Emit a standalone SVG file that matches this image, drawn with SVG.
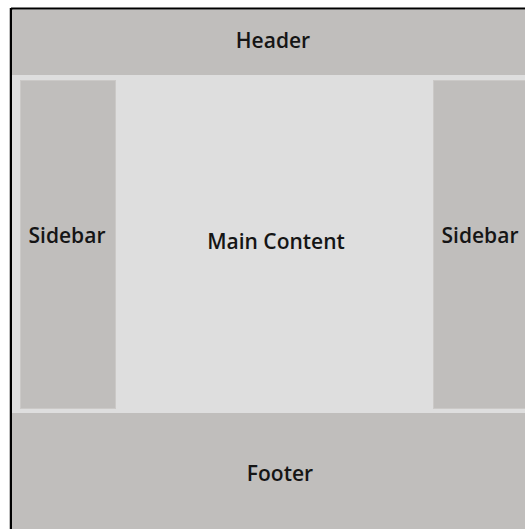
<svg xmlns="http://www.w3.org/2000/svg" width="525" height="529" viewBox="0 0 525 529">
  <style>
    .band { fill: #c0bebc; }
    .main { fill: #dedede; }
    .side { fill: #c0bebc; stroke: #cbc9c7; stroke-width: 1; }
    .label { font-family: "Open Sans", "Noto Sans", "DejaVu Sans", sans-serif; font-weight: 600; font-size: 21px; fill: #151515; text-anchor: middle; }
  </style>
  <rect x="0" y="0" width="525" height="529" fill="#ffffff"/>
  <!-- page frame -->
  <g id="page">
    <rect x="11" y="9" width="530" height="530" fill="#dedede"/>
    <line x1="11" y1="8.5" x2="525" y2="8.5" stroke="#000" stroke-width="2"/>
    <line x1="11" y1="8" x2="11" y2="529" stroke="#000" stroke-width="2.5"/>
  </g>
  <g id="header">
    <rect class="band" x="12" y="10" width="513" height="65"/>
    <text class="label" x="273" y="48">Header</text>
  </g>
  <g id="main-content">
    <rect class="main" x="12" y="75" width="513" height="338"/>
    <text class="label" x="276" y="249">Main Content</text>
  </g>
  <g id="sidebar-left">
    <rect class="side" x="20.5" y="80.5" width="95" height="328"/>
    <text class="label" x="67" y="243">Sidebar</text>
  </g>
  <g id="sidebar-right">
    <rect class="side" x="433.5" y="80.5" width="100" height="328"/>
    <text class="label" x="480" y="243">Sidebar</text>
  </g>
  <g id="footer">
    <rect class="band" x="12" y="413" width="513" height="116"/>
    <text class="label" x="280" y="481">Footer</text>
  </g>
</svg>
